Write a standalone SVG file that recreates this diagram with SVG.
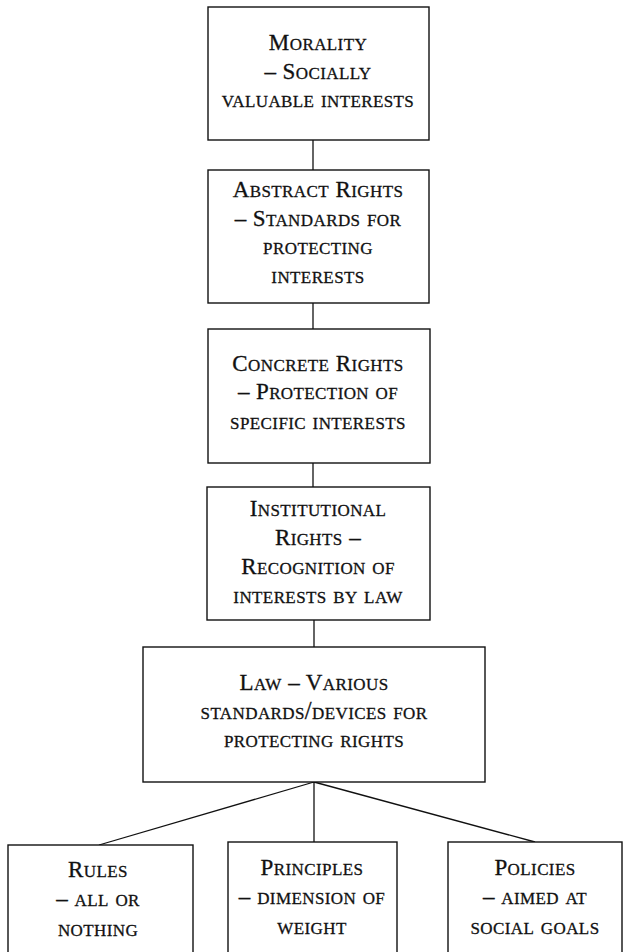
<svg xmlns="http://www.w3.org/2000/svg" width="623" height="952" viewBox="0 0 623 952">
  <style>
    .box { fill: #ffffff; stroke: #111111; stroke-width: 1.4; }
    .link { fill: none; stroke: #111111; stroke-width: 1.3; }
    text { font-family: "Liberation Serif", "Times New Roman", serif; font-size: 24.5px; font-variant: small-caps; font-variant-caps: small-caps; fill: #111111; stroke: #111111; stroke-width: 0.3; text-anchor: middle; letter-spacing: 0.4px; }
    .c { font-size: 23px; }
  </style>
  <rect x="0" y="0" width="623" height="952" fill="#ffffff"/>

  <g id="connectors">
    <line class="link" x1="313" y1="140" x2="313" y2="170"/>
    <line class="link" x1="313" y1="303" x2="313" y2="329"/>
    <line class="link" x1="313" y1="463" x2="313" y2="487"/>
    <line class="link" x1="314" y1="620" x2="314" y2="647"/>
    <line class="link" x1="314" y1="782" x2="99" y2="845"/>
    <line class="link" x1="314" y1="782" x2="314" y2="842"/>
    <line class="link" x1="314" y1="782" x2="535" y2="842"/>
  </g>

  <g id="morality">
    <rect class="box" x="208" y="7" width="221" height="133"/>
    <text x="318" y="50"><tspan class="c">M</tspan>orality</text>
    <text x="318" y="79"><tspan class="c">– S</tspan>ocially</text>
    <text x="318" y="107">valuable interests</text>
  </g>

  <g id="abstract-rights">
    <rect class="box" x="208" y="170" width="221" height="133"/>
    <text x="318" y="197"><tspan class="c">A</tspan>bstract <tspan class="c">R</tspan>ights</text>
    <text x="318" y="226"><tspan class="c">– S</tspan>tandards for</text>
    <text x="318" y="254">protecting</text>
    <text x="318" y="283">interests</text>
  </g>

  <g id="concrete-rights">
    <rect class="box" x="208" y="329" width="222" height="134"/>
    <text x="318" y="371"><tspan class="c">C</tspan>oncrete <tspan class="c">R</tspan>ights</text>
    <text x="318" y="399"><tspan class="c">– P</tspan>rotection of</text>
    <text x="318" y="429">specific interests</text>
  </g>

  <g id="institutional-rights">
    <rect class="box" x="207" y="487" width="223" height="133"/>
    <text x="318" y="516"><tspan class="c">I</tspan>nstitutional</text>
    <text x="318" y="545"><tspan class="c">R</tspan>ights  <tspan class="c">–</tspan></text>
    <text x="318" y="574"><tspan class="c">R</tspan>ecognition of</text>
    <text x="318" y="603">interests by law</text>
  </g>

  <g id="law">
    <rect class="box" x="143" y="647" width="342" height="135"/>
    <text x="314" y="690"><tspan class="c">L</tspan>aw <tspan class="c">– V</tspan>arious</text>
    <text x="314" y="719">standards/devices for</text>
    <text x="314" y="747">protecting rights</text>
  </g>

  <g id="rules">
    <rect class="box" x="8" y="845" width="185" height="120"/>
    <text x="98" y="877"><tspan class="c">R</tspan>ules</text>
    <text x="98" y="906"><tspan class="c">–</tspan> all or</text>
    <text x="98" y="936">nothing</text>
  </g>

  <g id="principles">
    <rect class="box" x="228" y="842" width="169" height="120"/>
    <text x="312" y="875"><tspan class="c">P</tspan>rinciples</text>
    <text x="312" y="904"><tspan class="c">–</tspan> dimension of</text>
    <text x="312" y="934">weight</text>
  </g>

  <g id="policies">
    <rect class="box" x="448" y="842" width="174" height="120"/>
    <text x="535" y="875"><tspan class="c">P</tspan>olicies</text>
    <text x="535" y="904"><tspan class="c">–</tspan> aimed at</text>
    <text x="535" y="934">social goals</text>
  </g>
</svg>
